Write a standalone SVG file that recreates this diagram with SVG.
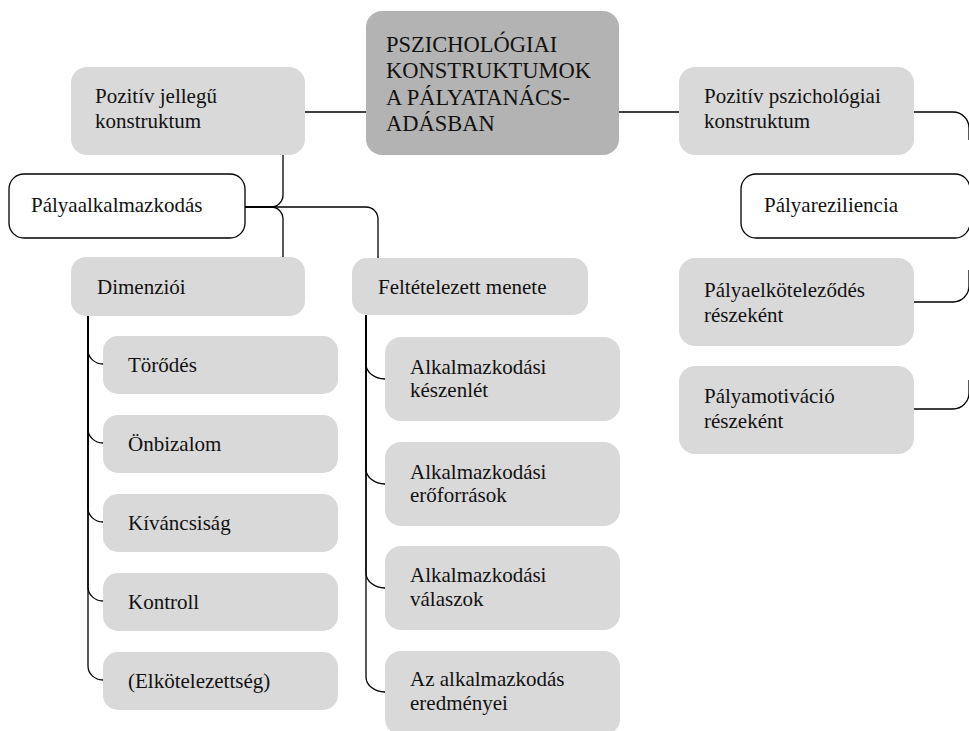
<svg xmlns="http://www.w3.org/2000/svg" width="969" height="731" viewBox="0 0 969 731">
  <style>
    .box { fill: #d9d9d9; }
    .root { fill: #b3b3b3; }
    .outline { fill: #ffffff; stroke: #000000; stroke-width: 1.3; }
    .lbl { font-size: 21px; fill: #111111; }
    .head { font-size: 22.5px; fill: #111111; }
    .conn { fill: none; stroke: #000000; stroke-width: 1.3; }
  </style>
  <rect width="969" height="731" fill="#ffffff"/>

  <!-- connectors -->
  <g id="connectors">
    <path class="conn" d="M305,112 H366"/>
    <path class="conn" d="M619,112 H679"/>
    <path class="conn" d="M283,155 V195 A12 12 0 0 1 271 207 H245"/>
    <path class="conn" d="M245,207 H271 A12 12 0 0 1 283 219 V257"/>
    <path class="conn" d="M245,207 H366 A12 12 0 0 1 378 219 V258"/>
    <!-- Dimenziói branches -->
    <path class="conn" d="M88,316 V350 A15 14 0 0 0 103 364"/>
    <path class="conn" d="M88,316 V429 A15 14 0 0 0 103 443"/>
    <path class="conn" d="M88,316 V508 A15 14 0 0 0 103 522"/>
    <path class="conn" d="M88,316 V587 A15 14 0 0 0 103 601"/>
    <path class="conn" d="M88,316 V666 A15 14 0 0 0 103 680"/>
    <!-- Feltételezett menete branches -->
    <path class="conn" d="M366,315 V364 A19 15 0 0 0 385 379"/>
    <path class="conn" d="M366,315 V469 A19 15 0 0 0 385 484"/>
    <path class="conn" d="M366,315 V573 A19 15 0 0 0 385 588"/>
    <path class="conn" d="M366,315 V677 A19 15 0 0 0 385 692"/>
    <!-- right-hand branches -->
    <path class="conn" d="M914,112 H953 A16 16 0 0 1 969 128 V140"/>
    <path class="conn" d="M914,302 H953 A16 16 0 0 0 969 286 V270"/>
    <path class="conn" d="M914,409 H953 A16 16 0 0 0 969 393 V380"/>
  </g>

  <g font-family="'Liberation Serif', 'DejaVu Serif', serif">
    <g id="root">
      <rect class="root" x="366" y="11" width="253" height="144" rx="16"/>
      <text class="head" x="386" y="52">PSZICHOLÓGIAI</text>
      <text class="head" x="386" y="78">KONSTRUKTUMOK</text>
      <text class="head" x="386" y="105">A PÁLYATANÁCS-</text>
      <text class="head" x="386" y="131">ADÁSBAN</text>
    </g>

    <g id="pozitiv-jellegu">
      <rect class="box" x="71" y="67" width="234" height="88" rx="16"/>
      <text class="lbl" x="95" y="103">Pozitív jellegű</text>
      <text class="lbl" x="95" y="128">konstruktum</text>
    </g>

    <g id="pozitiv-pszichologiai">
      <rect class="box" x="679" y="67" width="235" height="88" rx="16"/>
      <text class="lbl" x="704" y="103">Pozitív pszichológiai</text>
      <text class="lbl" x="704" y="128">konstruktum</text>
    </g>

    <g id="palyaalkalmazkodas">
      <rect class="outline" x="9" y="174" width="236" height="64" rx="15"/>
      <text class="lbl" x="31" y="212">Pályaalkalmazkodás</text>
    </g>

    <g id="palyareziliencia">
      <rect class="outline" x="741" y="174" width="229" height="64" rx="15"/>
      <text class="lbl" x="764" y="212">Pályareziliencia</text>
    </g>

    <g id="dimenzioi">
      <rect class="box" x="71" y="257" width="234" height="59" rx="15"/>
      <text class="lbl" x="97" y="294">Dimenziói</text>
    </g>

    <g id="feltetelezett-menete">
      <rect class="box" x="352" y="258" width="236" height="57" rx="15"/>
      <text class="lbl" x="378" y="294">Feltételezett menete</text>
    </g>

    <g id="torodes">
      <rect class="box" x="103" y="336" width="235" height="58" rx="15"/>
      <text class="lbl" x="128" y="372">Törődés</text>
    </g>
    <g id="onbizalom">
      <rect class="box" x="103" y="415" width="235" height="58" rx="15"/>
      <text class="lbl" x="128" y="451">Önbizalom</text>
    </g>
    <g id="kivancsisag">
      <rect class="box" x="103" y="494" width="235" height="58" rx="15"/>
      <text class="lbl" x="128" y="530">Kíváncsiság</text>
    </g>
    <g id="kontroll">
      <rect class="box" x="103" y="573" width="235" height="58" rx="15"/>
      <text class="lbl" x="128" y="609">Kontroll</text>
    </g>
    <g id="elkotelezettseg">
      <rect class="box" x="103" y="652" width="235" height="58" rx="15"/>
      <text class="lbl" x="128" y="688">(Elkötelezettség)</text>
    </g>

    <g id="keszenlet">
      <rect class="box" x="385" y="337" width="235" height="84" rx="16"/>
      <text class="lbl" x="410" y="374">Alkalmazkodási</text>
      <text class="lbl" x="410" y="397">készenlét</text>
    </g>
    <g id="eroforrasok">
      <rect class="box" x="385" y="442" width="235" height="84" rx="16"/>
      <text class="lbl" x="410" y="479">Alkalmazkodási</text>
      <text class="lbl" x="410" y="502">erőforrások</text>
    </g>
    <g id="valaszok">
      <rect class="box" x="385" y="546" width="235" height="84" rx="16"/>
      <text class="lbl" x="410" y="582">Alkalmazkodási</text>
      <text class="lbl" x="410" y="606">válaszok</text>
    </g>
    <g id="eredmenyei">
      <rect class="box" x="385" y="651" width="235" height="84" rx="16"/>
      <text class="lbl" x="410" y="686">Az alkalmazkodás</text>
      <text class="lbl" x="410" y="710">eredményei</text>
    </g>

    <g id="palyaelkotelezodes">
      <rect class="box" x="679" y="258" width="235" height="88" rx="16"/>
      <text class="lbl" x="704" y="297">Pályaelköteleződés</text>
      <text class="lbl" x="704" y="322">részeként</text>
    </g>
    <g id="palyamotivacio">
      <rect class="box" x="679" y="366" width="235" height="88" rx="16"/>
      <text class="lbl" x="704" y="403">Pályamotiváció</text>
      <text class="lbl" x="704" y="428">részeként</text>
    </g>
  </g>
</svg>
